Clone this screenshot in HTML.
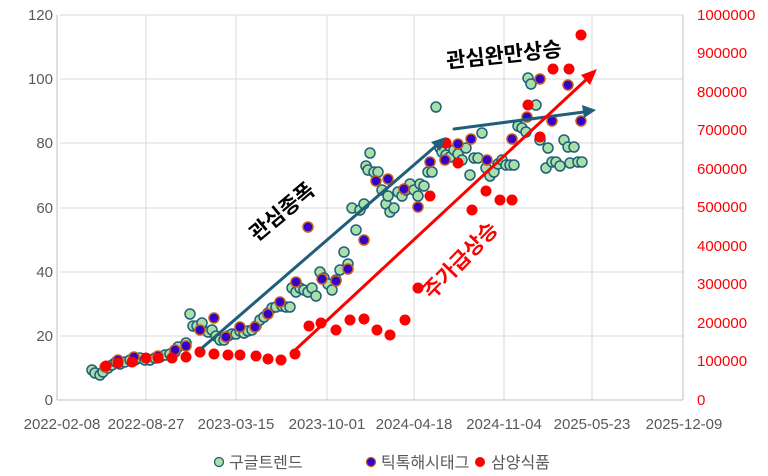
<!DOCTYPE html><html><head><meta charset="utf-8"><style>body{margin:0;background:#fff}svg{display:block}text{font-family:"Liberation Sans","Noto Sans CJK KR",sans-serif}</style></head><body>
<svg width="768" height="476" xmlns="http://www.w3.org/2000/svg">
<g stroke="#d9d9d9" stroke-width="1">
<line x1="60" y1="15" x2="683" y2="15"/><line x1="60" y1="79" x2="683" y2="79"/><line x1="60" y1="143" x2="683" y2="143"/><line x1="60" y1="208" x2="683" y2="208"/><line x1="60" y1="272" x2="683" y2="272"/><line x1="60" y1="336" x2="683" y2="336"/>
<line x1="146" y1="15" x2="146" y2="400"/><line x1="236" y1="15" x2="236" y2="400"/><line x1="327" y1="15" x2="327" y2="400"/><line x1="414" y1="15" x2="414" y2="400"/><line x1="504" y1="15" x2="504" y2="400"/><line x1="592" y1="15" x2="592" y2="400"/>
</g>
<g stroke="#bfbfbf"><line x1="57" y1="400" x2="683" y2="400"/><line x1="57" y1="15" x2="57" y2="400"/><line x1="683" y1="15" x2="683" y2="400"/></g>
<g font-size="15" fill="#595959" text-anchor="end">
<text x="53" y="20">120</text><text x="53" y="84">100</text><text x="53" y="148">80</text><text x="53" y="213">60</text><text x="53" y="277">40</text><text x="53" y="341">20</text><text x="53" y="405">0</text></g>
<g font-size="15" fill="#ff0000">
<text x="697" y="20">1000000</text><text x="697" y="58">900000</text><text x="697" y="97">800000</text><text x="697" y="135">700000</text><text x="697" y="174">600000</text><text x="697" y="212">500000</text><text x="697" y="251">400000</text><text x="697" y="289">300000</text><text x="697" y="328">200000</text><text x="697" y="366">100000</text><text x="697" y="405">0</text></g>
<g font-size="15" fill="#595959" text-anchor="middle">
<text x="62" y="429">2022-02-08</text><text x="146" y="429">2022-08-27</text><text x="236" y="429">2023-03-15</text><text x="327" y="429">2023-10-01</text><text x="414" y="429">2024-04-18</text><text x="504" y="429">2024-11-04</text><text x="592" y="429">2025-05-23</text><text x="684" y="429">2025-12-09</text></g>
<g fill="#a9dfa9" stroke="#1f5f7a" stroke-width="1.5">
<circle cx="92" cy="370" r="5"/><circle cx="95" cy="373" r="5"/><circle cx="100" cy="375" r="5"/><circle cx="103" cy="372" r="5"/><circle cx="108" cy="368" r="5"/><circle cx="112" cy="365" r="5"/><circle cx="116" cy="362" r="5"/><circle cx="120" cy="364" r="5"/><circle cx="125" cy="362" r="5"/><circle cx="130" cy="360" r="5"/><circle cx="135" cy="360" r="5"/><circle cx="140" cy="358" r="5"/><circle cx="145" cy="360" r="5"/><circle cx="150" cy="360" r="5"/><circle cx="155" cy="358" r="5"/><circle cx="160" cy="357" r="5"/><circle cx="165" cy="355" r="5"/><circle cx="170" cy="354" r="5"/><circle cx="175" cy="352" r="5"/><circle cx="178" cy="347" r="5"/><circle cx="186" cy="343" r="5"/><circle cx="190" cy="314" r="5"/><circle cx="193" cy="326" r="5"/><circle cx="197" cy="326" r="5"/><circle cx="202" cy="323" r="5"/><circle cx="208" cy="332" r="5"/><circle cx="212" cy="330" r="5"/><circle cx="216" cy="336" r="5"/><circle cx="220" cy="340" r="5"/><circle cx="224" cy="340" r="5"/><circle cx="228" cy="336" r="5"/><circle cx="232" cy="334" r="5"/><circle cx="236" cy="334" r="5"/><circle cx="240" cy="331" r="5"/><circle cx="244" cy="333" r="5"/><circle cx="248" cy="331" r="5"/><circle cx="252" cy="330" r="5"/><circle cx="256" cy="326" r="5"/><circle cx="260" cy="320" r="5"/><circle cx="264" cy="317" r="5"/><circle cx="268" cy="313" r="5"/><circle cx="272" cy="308" r="5"/><circle cx="276" cy="307" r="5"/><circle cx="282" cy="306" r="5"/><circle cx="286" cy="307" r="5"/><circle cx="290" cy="307" r="5"/><circle cx="292" cy="288" r="5"/><circle cx="296" cy="292" r="5"/><circle cx="300" cy="288" r="5"/><circle cx="304" cy="290" r="5"/><circle cx="308" cy="292" r="5"/><circle cx="312" cy="288" r="5"/><circle cx="316" cy="296" r="5"/><circle cx="320" cy="272" r="5"/><circle cx="324" cy="278" r="5"/><circle cx="328" cy="284" r="5"/><circle cx="332" cy="290" r="5"/><circle cx="336" cy="280" r="5"/><circle cx="340" cy="270" r="5"/><circle cx="344" cy="252" r="5"/><circle cx="348" cy="264" r="5"/><circle cx="352" cy="208" r="5"/><circle cx="356" cy="230" r="5"/><circle cx="360" cy="210" r="5"/><circle cx="364" cy="204" r="5"/><circle cx="366" cy="166" r="5"/><circle cx="368" cy="170" r="5"/><circle cx="370" cy="153" r="5"/><circle cx="374" cy="172" r="5"/><circle cx="378" cy="172" r="5"/><circle cx="382" cy="190" r="5"/><circle cx="386" cy="204" r="5"/><circle cx="388" cy="196" r="5"/><circle cx="390" cy="212" r="5"/><circle cx="394" cy="208" r="5"/><circle cx="398" cy="192" r="5"/><circle cx="402" cy="196" r="5"/><circle cx="406" cy="190" r="5"/><circle cx="410" cy="184" r="5"/><circle cx="414" cy="190" r="5"/><circle cx="418" cy="196" r="5"/><circle cx="420" cy="184" r="5"/><circle cx="424" cy="186" r="5"/><circle cx="428" cy="172" r="5"/><circle cx="432" cy="172" r="5"/><circle cx="436" cy="107" r="5"/><circle cx="440" cy="148" r="5"/><circle cx="442" cy="152" r="5"/><circle cx="446" cy="155" r="5"/><circle cx="450" cy="157" r="5"/><circle cx="454" cy="150" r="5"/><circle cx="458" cy="154" r="5"/><circle cx="462" cy="160" r="5"/><circle cx="466" cy="148" r="5"/><circle cx="470" cy="175" r="5"/><circle cx="474" cy="158" r="5"/><circle cx="478" cy="158" r="5"/><circle cx="482" cy="133" r="5"/><circle cx="486" cy="168" r="5"/><circle cx="490" cy="176" r="5"/><circle cx="494" cy="172" r="5"/><circle cx="498" cy="164" r="5"/><circle cx="502" cy="160" r="5"/><circle cx="506" cy="165" r="5"/><circle cx="510" cy="165" r="5"/><circle cx="514" cy="165" r="5"/><circle cx="518" cy="126" r="5"/><circle cx="522" cy="128" r="5"/><circle cx="526" cy="132" r="5"/><circle cx="528" cy="78" r="5"/><circle cx="531" cy="84" r="5"/><circle cx="536" cy="105" r="5"/><circle cx="540" cy="140" r="5"/><circle cx="546" cy="168" r="5"/><circle cx="548" cy="148" r="5"/><circle cx="552" cy="162" r="5"/><circle cx="556" cy="162" r="5"/><circle cx="560" cy="166" r="5"/><circle cx="564" cy="140" r="5"/><circle cx="568" cy="147" r="5"/><circle cx="570" cy="163" r="5"/><circle cx="574" cy="147" r="5"/><circle cx="578" cy="162" r="5"/><circle cx="582" cy="162" r="5"/>
</g>
<g fill="#3300cc" stroke="#c0601a" stroke-width="1.5">
<circle cx="105" cy="367" r="5"/><circle cx="118" cy="360" r="5"/><circle cx="134" cy="357" r="5"/><circle cx="158" cy="356" r="5"/><circle cx="175" cy="350" r="5"/><circle cx="186" cy="346" r="5"/><circle cx="200" cy="330" r="5"/><circle cx="214" cy="318" r="5"/><circle cx="226" cy="337" r="5"/><circle cx="240" cy="327" r="5"/><circle cx="255" cy="327" r="5"/><circle cx="268" cy="314" r="5"/><circle cx="280" cy="302" r="5"/><circle cx="296" cy="282" r="5"/><circle cx="308" cy="227" r="5"/><circle cx="322" cy="279" r="5"/><circle cx="336" cy="281" r="5"/><circle cx="348" cy="269" r="5"/><circle cx="364" cy="240" r="5"/><circle cx="376" cy="181" r="5"/><circle cx="388" cy="179" r="5"/><circle cx="404" cy="189" r="5"/><circle cx="418" cy="207" r="5"/><circle cx="430" cy="162" r="5"/><circle cx="445" cy="160" r="5"/><circle cx="458" cy="144" r="5"/><circle cx="471" cy="139" r="5"/><circle cx="487" cy="160" r="5"/><circle cx="512" cy="139" r="5"/><circle cx="527" cy="117" r="5"/><circle cx="540" cy="79" r="5"/><circle cx="552" cy="121" r="5"/><circle cx="568" cy="85" r="5"/><circle cx="581" cy="121" r="5"/>
</g>
<g fill="#ff0000">
<circle cx="106" cy="366" r="5.5"/><circle cx="118" cy="363" r="5.5"/><circle cx="132" cy="362" r="5.5"/><circle cx="146" cy="358" r="5.5"/><circle cx="158" cy="358" r="5.5"/><circle cx="172" cy="358" r="5.5"/><circle cx="186" cy="357" r="5.5"/><circle cx="200" cy="352" r="5.5"/><circle cx="214" cy="354" r="5.5"/><circle cx="228" cy="355" r="5.5"/><circle cx="240" cy="355" r="5.5"/><circle cx="256" cy="356" r="5.5"/><circle cx="268" cy="359" r="5.5"/><circle cx="281" cy="360" r="5.5"/><circle cx="295" cy="354" r="5.5"/><circle cx="309" cy="326" r="5.5"/><circle cx="321" cy="323" r="5.5"/><circle cx="336" cy="330" r="5.5"/><circle cx="350" cy="320" r="5.5"/><circle cx="364" cy="319" r="5.5"/><circle cx="377" cy="330" r="5.5"/><circle cx="390" cy="335" r="5.5"/><circle cx="405" cy="320" r="5.5"/><circle cx="418" cy="288" r="5.5"/><circle cx="430" cy="196" r="5.5"/><circle cx="446" cy="143" r="5.5"/><circle cx="458" cy="163" r="5.5"/><circle cx="472" cy="210" r="5.5"/><circle cx="486" cy="191" r="5.5"/><circle cx="500" cy="200" r="5.5"/><circle cx="512" cy="200" r="5.5"/><circle cx="528" cy="105" r="5.5"/><circle cx="540" cy="137" r="5.5"/><circle cx="553" cy="69" r="5.5"/><circle cx="569" cy="69" r="5.5"/><circle cx="581" cy="35" r="5.5"/>
</g>
<g stroke-width="3" stroke-linecap="round">
<line x1="202" y1="348" x2="437" y2="145" stroke="#1f5f7a"/><polygon points="446,137 431,142 440,151" fill="#1f5f7a"/>
<line x1="454" y1="129" x2="584" y2="112" stroke="#1f5f7a"/><polygon points="596,110 582,105 584,118" fill="#1f5f7a"/>
<line x1="293" y1="352" x2="588" y2="78" stroke="#ff0000"/><polygon points="597,69 581,75 590,85" fill="#ff0000"/>
</g>
<text x="0" y="0" font-size="21" font-weight="bold" fill="#000" transform="translate(257,242) rotate(-40)">관심종폭</text>
<text x="0" y="0" font-size="21" font-weight="bold" fill="#ff0000" transform="translate(432,300) rotate(-46)">주가급상승</text>
<text x="0" y="0" font-size="21" font-weight="bold" fill="#000" transform="translate(447,68) rotate(-6)">관심완만상승</text>
<g font-size="16" fill="#595959">
<circle cx="219" cy="462" r="4.5" fill="#a9dfa9" stroke="#1f5f7a" stroke-width="1.3"/><text x="229" y="468">구글트렌드</text>
<circle cx="371" cy="462" r="4.5" fill="#3300cc" stroke="#c0601a" stroke-width="1.3"/><text x="381" y="468">틱톡해시태그</text>
<circle cx="480" cy="462" r="5" fill="#ff0000"/><text x="491" y="468">삼양식품</text>
</g>
</svg>
</body></html>
